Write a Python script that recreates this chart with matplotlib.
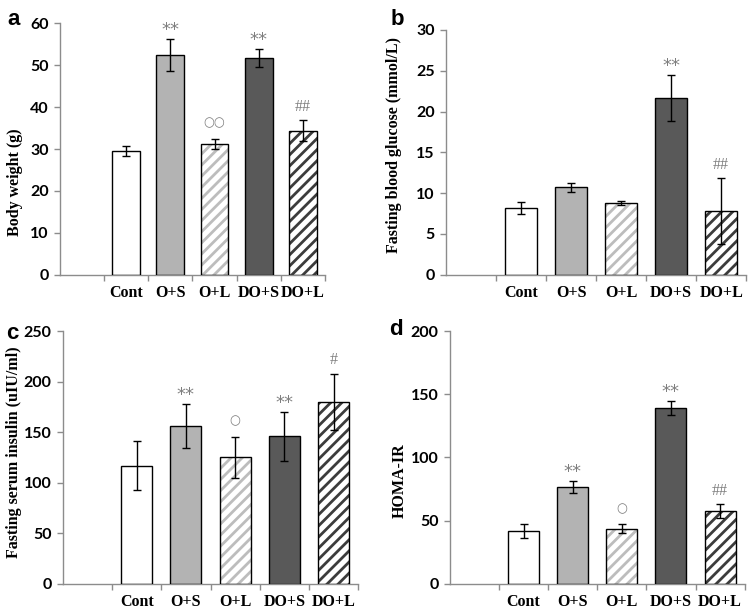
import matplotlib
matplotlib.use('Agg')
import matplotlib.pyplot as plt
import numpy as np

groups = ['Cont', 'O+S', 'O+L', 'DO+S', 'DO+L']

bw_mean = [29.5, 52.4, 31.1, 51.7, 34.4]
bw_err = [1.2, 3.9, 1.2, 2.1, 2.5]
bw_marks = ['', '**', '○○', '**', '##']

glu_mean = [8.2, 10.7, 8.8, 21.7, 7.8]
glu_err = [0.7, 0.6, 0.3, 2.8, 4.0]
glu_marks = ['', '', '', '**', '##']

ins_mean = [117, 156, 125, 146, 180]
ins_err = [24, 22, 20, 24, 28]
ins_marks = ['', '**', '○', '**', '#']

homa_mean = [41.5, 76.5, 43.5, 139.5, 57.5]
homa_err = [5.5, 4.5, 3.5, 5.5, 5.5]
homa_marks = ['', '**', '○', '**', '##']

panels = [
    ('a', 'Body weight (g)', bw_mean, bw_err, bw_marks, 60, 10),
    ('b', 'Fasting blood glucose (mmol/L)', glu_mean, glu_err, glu_marks, 30, 5),
    ('c', 'Fasting serum insulin (uIU/ml)', ins_mean, ins_err, ins_marks, 250, 50),
    ('d', 'HOMA-IR', homa_mean, homa_err, homa_marks, 200, 50),
]

# styles
faces = ['white', '#b3b3b3', 'white', '#595959', 'white']
hatch_cols = ['black', '#b3b3b3', '#bdbdbd', '#595959', '#3c3c3c']
hatches = ['', '', '///', '', '///']
mark_offsets = {'**': 0, '##': 4, '#': 4, '○': 7, '○○': 7}
mark_sizes = {'**': 13, '##': 11.5, '#': 11.5, '○': 9, '○○': 9}
mark_fonts = {'**': ['DejaVu Sans'], '##': ['Liberation Serif'], '#': ['Liberation Serif'],
              '○': ['DejaVu Sans'], '○○': ['DejaVu Sans']}

axes_rects = [
    [0.079, 0.551, 0.351, 0.411],
    [0.590, 0.551, 0.397, 0.400],
    [0.083, 0.046, 0.391, 0.413],
    [0.595, 0.046, 0.390, 0.413],
]
label_pos = [(-0.17, 0.37), (-0.175, 0.53), (-0.165, 0.52), (-0.17, 0.41)]
letter_pos = [(0.018, 0.985), (0.525, 0.985), (0.016, 0.472), (0.524, 0.478)]

plt.rcParams['hatch.linewidth'] = 2.0
spine_col = '#8c8c8c'

fig = plt.figure(figsize=(7.56, 6.12), dpi=100)

for k, (letter, ylabel, means, errs, marks, ymax, ystep) in enumerate(panels):
    ax = fig.add_axes(axes_rects[k])
    x = np.arange(1, len(groups) + 1)
    w = 0.63
    bars = ax.bar(x, means, width=w, linewidth=0, zorder=2)
    for b, fc, hc, h in zip(bars, faces, hatch_cols, hatches):
        b.set_facecolor(fc)
        b.set_edgecolor(hc)
        b.set_hatch(h)
    ax.bar(x, means, width=w, fill=False, edgecolor='black', linewidth=1.0, zorder=3)
    ax.errorbar(x, means, yerr=errs, fmt='none', ecolor='black', elinewidth=1.0,
                capsize=3, capthick=1.0, zorder=4)
    for xi, m, e, s in zip(x, means, errs, marks):
        if s:
            ax.annotate(s, xy=(xi, m + e), xytext=(0, mark_offsets[s]),
                        textcoords='offset points', ha='center', va='bottom',
                        fontsize=mark_sizes[s], color='#7f7f7f',
                        family=mark_fonts[s])
    ax.set_xlim(-0.5, 5.5)
    ax.set_ylim(0, ymax)
    ax.set_yticks(np.arange(0, ymax + ystep / 2, ystep))
    ax.set_xticks(x)
    ax.set_xticklabels(groups, family='Liberation Serif', fontweight='bold', fontsize=11.5)
    ax.set_xticks(np.arange(0.5, 5.6, 1.0), minor=True)
    ax.tick_params(axis='x', which='major', length=0, pad=7)
    ax.tick_params(axis='x', which='minor', length=4, direction='out', color=spine_col, width=1)
    ax.tick_params(axis='y', length=4, direction='out', color=spine_col, width=1, pad=4)
    for t in ax.get_yticklabels():
        t.set_family('Lato')
        t.set_fontweight('bold')
        t.set_fontsize(11.5)
    for sp in ['top', 'right']:
        ax.spines[sp].set_visible(False)
    for sp in ['left', 'bottom']:
        ax.spines[sp].set_color(spine_col)
        ax.spines[sp].set_linewidth(1.0)
    ax.set_ylabel(ylabel, family='Liberation Serif', fontweight='bold', fontsize=11.5, va='center')
    ax.yaxis.set_label_coords(*label_pos[k])
    fig.text(letter_pos[k][0], letter_pos[k][1], letter, fontsize=16, fontweight='bold',
             family='Liberation Sans', ha='center', va='top')

fig.savefig('out.png', dpi=100)
